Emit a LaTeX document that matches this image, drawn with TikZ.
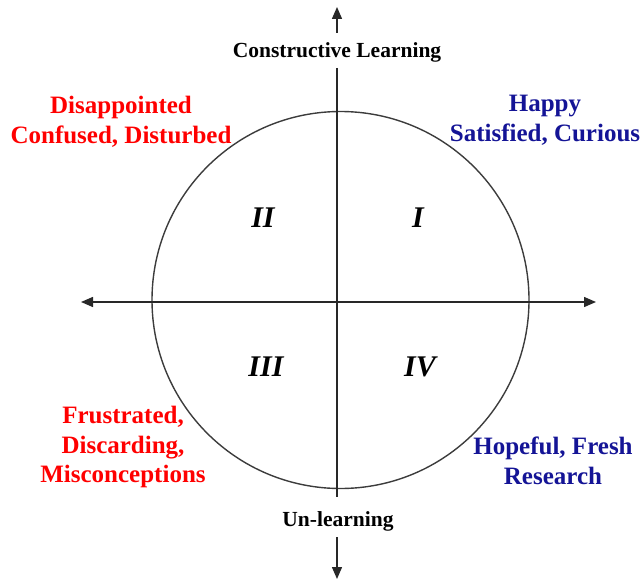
\documentclass[tikz,border=0pt]{standalone}
\usepackage{fontspec}
\setmainfont{Liberation Serif}
\usetikzlibrary{arrows.meta}
\definecolor{axisgray}{RGB}{40,40,40}
\definecolor{circgray}{RGB}{60,60,60}
\definecolor{emored}{RGB}{255,0,0}
\definecolor{emoblue}{RGB}{20,20,150}
\tikzset{
  ax/.style={draw=axisgray, line width=1.4pt, -{Triangle[length=12pt,width=10pt]}},
  axplain/.style={draw=axisgray, line width=1.4pt},
  circ/.style={draw=circgray, line width=1.4pt},
  axislabel/.style={font=\fontsize{21.5}{24}\selectfont\bfseries, text=black, inner sep=0pt},
  redtxt/.style={font=\fontsize{25}{29.5}\selectfont\bfseries, text=emored, align=center, inner sep=0pt},
  bluetxt/.style={font=\fontsize{25}{30}\selectfont\bfseries, text=emoblue, align=center, inner sep=0pt},
  quad/.style={font=\fontsize{30}{32}\selectfont\bfseries\itshape, text=black, inner sep=0pt}
}
\begin{document}
\begin{tikzpicture}[x=1pt,y=-1pt]
\useasboundingbox (0,0) rectangle (642,580);
% circle
\coordinate (O) at (340.5,300);
\draw[circ] (O) circle (188.5);
% axis endpoints
\coordinate (ttip) at (337,7);
\coordinate (tA) at (337,33);
\coordinate (tB) at (337,68);
\coordinate (bA) at (337,497);
\coordinate (bB) at (337,537);
\coordinate (btip) at (337,579);
\coordinate (ltip) at (81,302);
\coordinate (rtip) at (596,302);
\coordinate (hmid) at (337,302);
% axis labels
\node[axislabel] (cl) at (337,52) {Constructive Learning};
\node[axislabel] (ul) at (338,521) {Un-learning};
% axes
\draw[ax] (tA) -- (ttip);
\draw[axplain] (tB) -- (bA);
\draw[ax] (bB) -- (btip);
\draw[ax] (hmid) -- (ltip);
\draw[ax] (hmid) -- (rtip);
% quadrant numerals
\node[quad] (q1) at (418,218) {I};
\node[quad] (q2) at (263,218) {II};
\node[quad] (q3) at (266,367) {III};
\node[quad] (q4) at (420,367) {IV};
% emotions
\node[redtxt] (dis) at (121,122) {Disappointed\\Confused, Disturbed};
\node[bluetxt] (hap) at (545,120) {Happy\\Satisfied, Curious};
\node[redtxt] (fru) at (123,447) {Frustrated,\\Discarding,\\Misconceptions};
\node[bluetxt] (hop) at (553,461) {Hopeful, Fresh\\Research};
\end{tikzpicture}
\end{document}
